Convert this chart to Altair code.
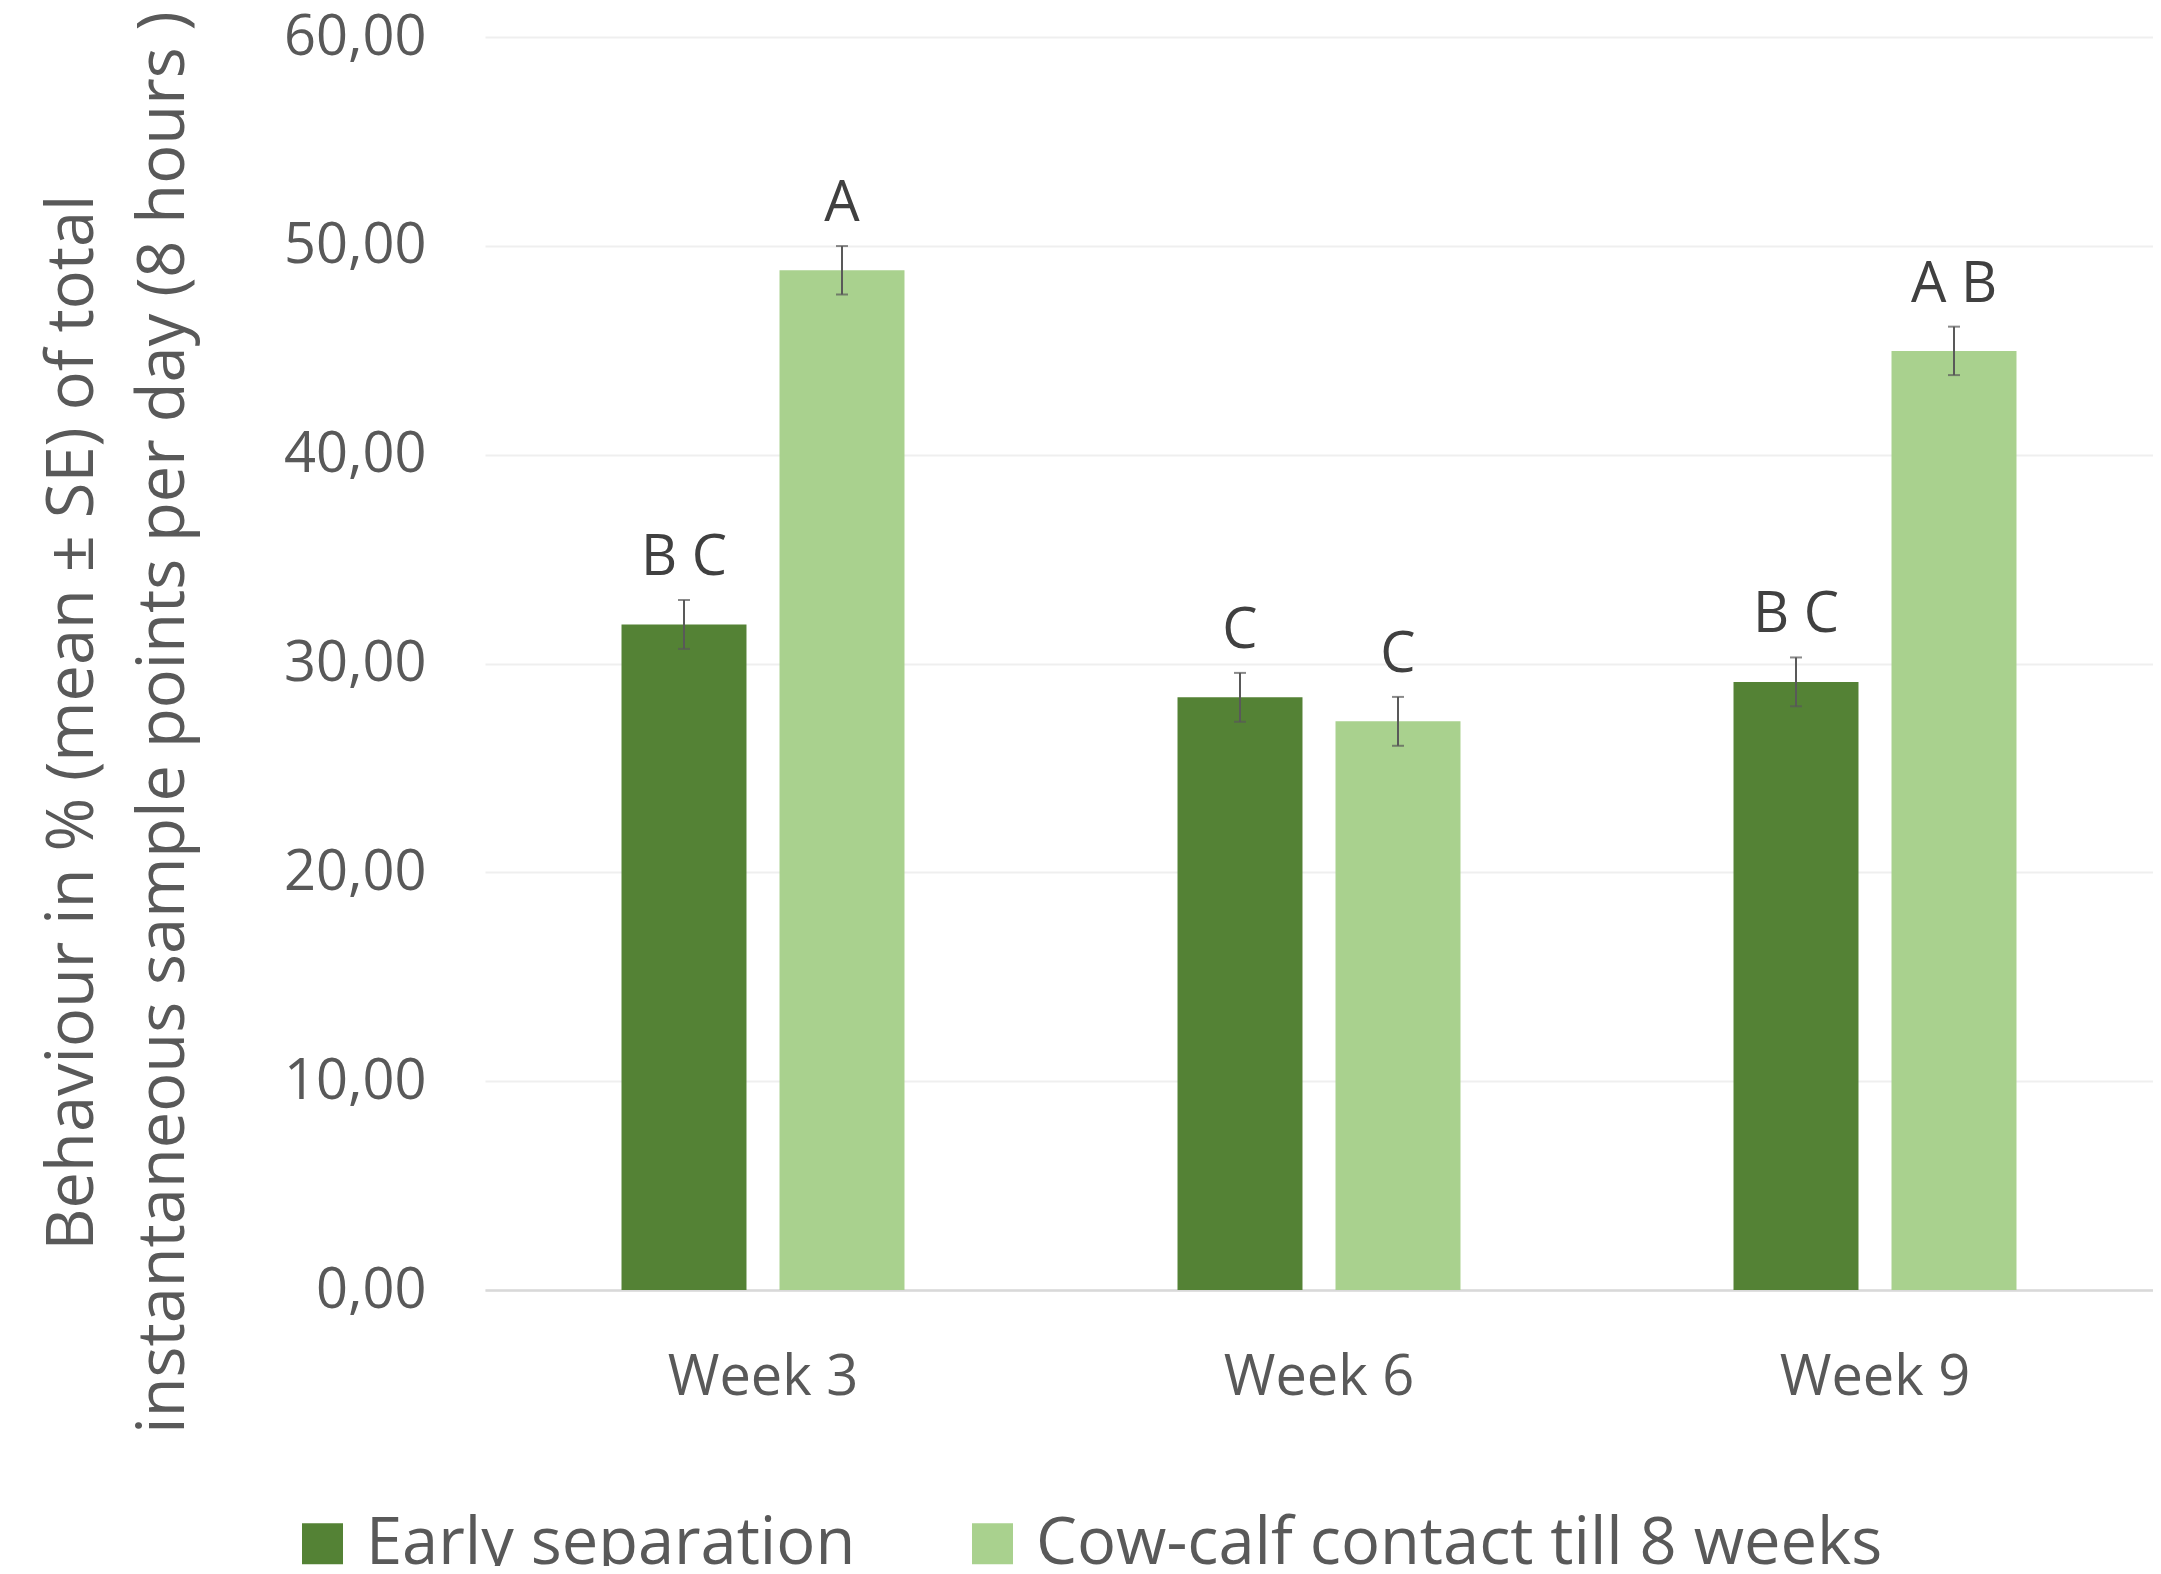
import altair as alt
import pandas as pd

weeks = ["Week 3", "Week 6", "Week 9"]
groups = ["Early separation", "Cow-calf contact till 8 weeks"]
early_mean = [31.87, 28.38, 29.12]
early_se = [1.17, 1.17, 1.17]
contact_mean = [48.83, 27.23, 44.97]
contact_se = [1.16, 1.17, 1.16]
early_letters = ["B C", "C", "B C"]
contact_letters = ["A", "C", "A B"]
colors = ["#548235", "#A9D18E"]

rows = []
for g, means, ses, letters in [
    (groups[0], early_mean, early_se, early_letters),
    (groups[1], contact_mean, contact_se, contact_letters),
]:
    for w, m, s, l in zip(weeks, means, ses, letters):
        rows.append({"week": w, "group": g, "mean": m, "lo": m - s, "hi": m + s, "letters": l})
df = pd.DataFrame(rows)

FONT = "Open Sans"

x_enc = alt.X("week:N", sort=weeks, scale=alt.Scale(paddingInner=0, paddingOuter=0),
              axis=alt.Axis(title=None, labelAngle=0, labelFontSize=56, labelColor="#595959",
                            labelPadding=60, labelLimit=1000, ticks=False, domain=True,
                            domainColor="#D9D9D9", domainWidth=2.5, grid=False, labelFont=FONT))
xoff = alt.XOffset("group:N", sort=groups,
                   scale=alt.Scale(paddingInner=0.209, paddingOuter=0.864))

base = alt.Chart(df)

bars = base.mark_bar(strokeWidth=0).encode(
    x=x_enc,
    xOffset=xoff,
    y=alt.Y("mean:Q", scale=alt.Scale(domain=[0, 60], nice=False),
            axis=alt.Axis(values=[0, 10, 20, 30, 40, 50, 60],
                          labelExpr="replace(format(datum.value, '.2f'), '.', ',')",
                          labelFontSize=56, labelColor="#595959", labelPadding=59,
                          labelFont=FONT, ticks=False, domain=False,
                          grid=True, gridColor="#EFEFEF", gridWidth=2,
                          title=["Behaviour in % (mean ± SE) of total",
                                 "instantaneous sample points per day (8 hours )"],
                          titleFontSize=65, titleFont=FONT, titleFontWeight="normal",
                          titleColor="#595959", titleAngle=270, titleAlign="center",
                          titleBaseline="alphabetic", titleLineHeight=91,
                          titleX=-393, titleY=685)),
    color=alt.Color("group:N", sort=groups,
                    scale=alt.Scale(domain=groups, range=colors),
                    legend=alt.Legend(title=None, orient="none", direction="horizontal",
                                      legendX=-195, legendY=1474,
                                      symbolType="square", symbolSize=1681,
                                      symbolStrokeWidth=0, labelFontSize=65,
                                      labelFont=FONT, labelColor="#595959",
                                      labelOffset=11, columnPadding=104,
                                      labelLimit=2000, padding=0)),
)

rules = base.mark_rule(color="#595959", strokeWidth=2).encode(
    x=alt.X("week:N", sort=weeks),
    xOffset=xoff,
    y="lo:Q",
    y2="hi:Q",
)

caps_hi = base.mark_tick(color="#595959", thickness=2, size=12).encode(
    x=alt.X("week:N", sort=weeks),
    xOffset=xoff,
    y="hi:Q",
)
caps_lo = base.mark_tick(color="#595959", thickness=2, size=12).encode(
    x=alt.X("week:N", sort=weeks),
    xOffset=xoff,
    y="lo:Q",
)

labels = base.mark_text(fontSize=56, font=FONT, color="#404040", baseline="alphabetic",
                        dy=-25).encode(
    x=alt.X("week:N", sort=weeks),
    xOffset=xoff,
    y="hi:Q",
    text="letters:N",
)

chart = alt.layer(bars, rules, caps_hi, caps_lo, labels).properties(
    width=1668, height=1253,
    autosize=alt.AutoSizeParams(type="none"),
    padding={"left": 477, "top": 29, "right": 0, "bottom": 276},
    background="white",
).configure_view(stroke=None)

chart.save("out.html", embed_options={"renderer": "svg", "actions": False})
